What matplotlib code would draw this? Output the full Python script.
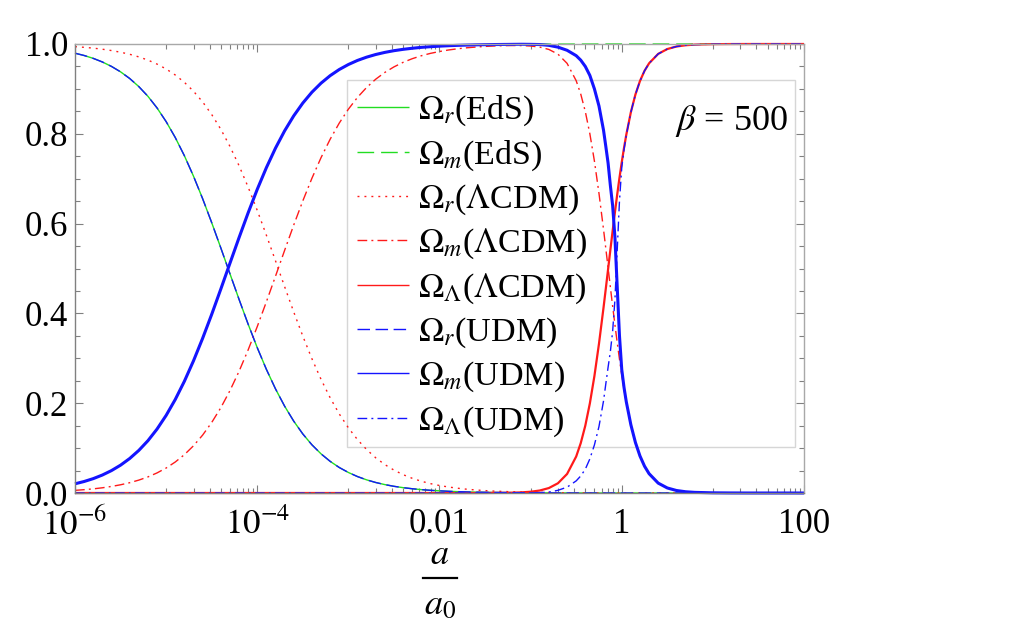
import matplotlib
matplotlib.use('Agg')
import matplotlib.pyplot as plt
import numpy as np
from matplotlib.ticker import FixedLocator, FixedFormatter, NullFormatter
from matplotlib.patches import Rectangle
from matplotlib.lines import Line2D

# ---------------- data ----------------
log10_a = [-6.0, -5.9, -5.8, -5.7, -5.6, -5.5, -5.4, -5.3, -5.2, -5.1,
           -5.0, -4.9, -4.8, -4.7, -4.6, -4.5, -4.4, -4.3, -4.2, -4.1,
           -4.0, -3.9, -3.8, -3.7, -3.6, -3.5, -3.4, -3.3, -3.2, -3.1,
           -3.0, -2.9, -2.8, -2.7, -2.6, -2.5, -2.4, -2.3, -2.2, -2.1,
           -2.0, -1.9, -1.8, -1.7, -1.6, -1.5, -1.4, -1.3, -1.2, -1.1,
           -1.0, -0.9, -0.8, -0.7, -0.6, -0.5, -0.45, -0.4, -0.35, -0.3, -0.25, -0.2,
           -0.175, -0.15, -0.125, -0.1, -0.075, -0.05, -0.025, 0.0,
           0.025, 0.05, 0.1, 0.15, 0.2, 0.25, 0.3, 0.4, 0.5, 0.6, 0.7, 0.8,
           1.0, 1.2, 1.4, 1.6, 1.8, 2.0]

omega_r_eds = [0.9795, 0.9744, 0.9680, 0.9600, 0.9501, 0.9380, 0.9232, 0.9052, 0.8836, 0.8577,
               0.8272, 0.7918, 0.7513, 0.7058, 0.6558, 0.6022, 0.5459, 0.4885, 0.4314, 0.3760,
               0.3237, 0.2755, 0.2320, 0.1935, 0.1601, 0.1315, 0.1073, 0.0872, 0.0705, 0.0568,
               0.0457, 0.0366, 0.0293, 0.0234, 0.0187, 0.0149, 0.0119, 0.0095, 0.0075, 0.0060,
               0.0048, 0.0038, 0.0030, 0.0024, 0.0019, 0.0015, 0.0012, 0.0010, 0.0008, 0.0006,
               0.0005, 0.0004, 0.0003, 0.0002, 0.0002, 0.0001, 0.0001, 0.0001, 0.0001, 0.0001,
               0.0, 0.0, 0.0, 0.0, 0.0, 0.0, 0.0, 0.0, 0.0, 0.0,
               0.0, 0.0, 0.0, 0.0, 0.0, 0.0, 0.0, 0.0, 0.0, 0.0, 0.0, 0.0,
               0.0, 0.0, 0.0, 0.0, 0.0, 0.0]

omega_m_eds = [0.0205, 0.0256, 0.0320, 0.0400, 0.0499, 0.0620, 0.0768, 0.0948, 0.1164, 0.1423,
               0.1728, 0.2082, 0.2487, 0.2942, 0.3442, 0.3978, 0.4541, 0.5115, 0.5686, 0.6240,
               0.6763, 0.7245, 0.7680, 0.8065, 0.8399, 0.8685, 0.8927, 0.9128, 0.9295, 0.9432,
               0.9543, 0.9634, 0.9707, 0.9766, 0.9813, 0.9851, 0.9881, 0.9905, 0.9925, 0.9940,
               0.9952, 0.9962, 0.9970, 0.9976, 0.9981, 0.9985, 0.9988, 0.9990, 0.9992, 0.9994,
               0.9995, 0.9996, 0.9997, 0.9998, 0.9998, 0.9999, 0.9999, 0.9999, 0.9999, 0.9999,
               1.0, 1.0, 1.0, 1.0, 1.0, 1.0, 1.0, 1.0, 1.0, 1.0,
               1.0, 1.0, 1.0, 1.0, 1.0, 1.0, 1.0, 1.0, 1.0, 1.0, 1.0, 1.0,
               1.0, 1.0, 1.0, 1.0, 1.0, 1.0]

omega_r_lcdm = [0.9941, 0.9926, 0.9908, 0.9884, 0.9854, 0.9817, 0.9771, 0.9713, 0.9642, 0.9553,
                0.9444, 0.9310, 0.9147, 0.8949, 0.8712, 0.8430, 0.8101, 0.7721, 0.7291, 0.6813,
                0.6294, 0.5743, 0.5173, 0.4598, 0.4034, 0.3494, 0.2990, 0.2531, 0.2121, 0.1761,
                0.1452, 0.1189, 0.0968, 0.0784, 0.0633, 0.0510, 0.0409, 0.0328, 0.0262, 0.0209,
                0.0167, 0.0133, 0.0106, 0.0084, 0.0067, 0.0053, 0.0042, 0.0034, 0.0027, 0.0021,
                0.0017, 0.0013, 0.0011, 0.0008, 0.0006, 0.0005, 0.0004, 0.0004, 0.0003, 0.0003,
                0.0002, 0.0002, 0.0001, 0.0001, 0.0001, 0.0001, 0.0, 0.0, 0.0, 0.0,
                0.0, 0.0, 0.0, 0.0, 0.0, 0.0, 0.0, 0.0, 0.0, 0.0, 0.0, 0.0,
                0.0, 0.0, 0.0, 0.0, 0.0, 0.0]

omega_m_lcdm = [0.0059, 0.0074, 0.0092, 0.0116, 0.0146, 0.0183, 0.0229, 0.0287, 0.0358, 0.0447,
                0.0556, 0.0690, 0.0853, 0.1051, 0.1288, 0.1570, 0.1899, 0.2279, 0.2709, 0.3187,
                0.3706, 0.4257, 0.4827, 0.5402, 0.5966, 0.6506, 0.7010, 0.7469, 0.7879, 0.8239,
                0.8548, 0.8811, 0.9032, 0.9216, 0.9367, 0.9490, 0.9591, 0.9672, 0.9738, 0.9791,
                0.9833, 0.9867, 0.9894, 0.9916, 0.9932, 0.9946, 0.9956, 0.9963, 0.9966, 0.9965,
                0.9955, 0.9931, 0.9879, 0.9774, 0.9569, 0.9182, 0.8885, 0.8496, 0.8001, 0.7393,
                0.6675, 0.5871, 0.5447, 0.5017, 0.4586, 0.4161, 0.3749, 0.3354, 0.2980, 0.2632,
                0.2311, 0.2019, 0.1519, 0.1125, 0.0824, 0.0597, 0.0430, 0.0220, 0.0112, 0.0056,
                0.0028, 0.0014, 0.0004, 0.0001, 0.0, 0.0, 0.0, 0.0]

omega_l_lcdm = [0.0, 0.0, 0.0, 0.0, 0.0, 0.0, 0.0, 0.0, 0.0, 0.0,
                0.0, 0.0, 0.0, 0.0, 0.0, 0.0, 0.0, 0.0, 0.0, 0.0,
                0.0, 0.0, 0.0, 0.0, 0.0, 0.0, 0.0, 0.0, 0.0, 0.0,
                0.0, 0.0, 0.0, 0.0, 0.0, 0.0, 0.0, 0.0, 0.0, 0.0,
                0.0, 0.0, 0.0, 0.0, 0.0, 0.0001, 0.0002, 0.0004, 0.0007, 0.0014,
                0.0028, 0.0055, 0.0110, 0.0217, 0.0424, 0.0813, 0.1111, 0.1500, 0.1996, 0.2605,
                0.3323, 0.4128, 0.4552, 0.4982, 0.5413, 0.5838, 0.6250, 0.6646, 0.7019, 0.7367,
                0.7688, 0.7981, 0.8481, 0.8875, 0.9176, 0.9403, 0.9570, 0.9780, 0.9888, 0.9944,
                0.9972, 0.9986, 0.9996, 0.9999, 1.0, 1.0, 1.0, 1.0]

omega_r_udm = [0.9795, 0.9744, 0.9680, 0.9600, 0.9501, 0.9380, 0.9232, 0.9052, 0.8836, 0.8577,
               0.8272, 0.7918, 0.7513, 0.7058, 0.6558, 0.6022, 0.5459, 0.4885, 0.4314, 0.3760,
               0.3237, 0.2755, 0.2320, 0.1935, 0.1601, 0.1315, 0.1073, 0.0872, 0.0705, 0.0568,
               0.0457, 0.0366, 0.0293, 0.0234, 0.0187, 0.0149, 0.0119, 0.0095, 0.0075, 0.0060,
               0.0048, 0.0038, 0.0030, 0.0024, 0.0019, 0.0015, 0.0012, 0.0010, 0.0008, 0.0006,
               0.0005, 0.0004, 0.0003, 0.0002, 0.0002, 0.0001, 0.0001, 0.0001, 0.0001, 0.0001,
               0.0, 0.0, 0.0, 0.0, 0.0, 0.0, 0.0, 0.0, 0.0, 0.0,
               0.0, 0.0, 0.0, 0.0, 0.0, 0.0, 0.0, 0.0, 0.0, 0.0, 0.0, 0.0,
               0.0, 0.0, 0.0, 0.0, 0.0, 0.0]

omega_m_udm = [0.0205, 0.0256, 0.0320, 0.0400, 0.0499, 0.0620, 0.0768, 0.0948, 0.1164, 0.1423,
               0.1728, 0.2082, 0.2487, 0.2942, 0.3442, 0.3978, 0.4541, 0.5115, 0.5686, 0.6240,
               0.6763, 0.7245, 0.7680, 0.8065, 0.8399, 0.8685, 0.8927, 0.9128, 0.9295, 0.9432,
               0.9543, 0.9634, 0.9707, 0.9766, 0.9813, 0.9851, 0.9881, 0.9905, 0.9925, 0.9940,
               0.9952, 0.9962, 0.9970, 0.9976, 0.9981, 0.9985, 0.9988, 0.9990, 0.9992, 0.9994,
               0.9992, 0.9988, 0.997, 0.993, 0.986, 0.974, 0.964, 0.950, 0.930, 0.900,
               0.862, 0.808, 0.772, 0.735, 0.685, 0.640, 0.570, 0.460, 0.350, 0.275,
               0.235, 0.203, 0.152, 0.1125, 0.0824, 0.0597, 0.0430, 0.0220, 0.0112, 0.0056,
               0.0028, 0.0014, 0.0004, 0.0001, 0.0, 0.0, 0.0, 0.0]

omega_l_udm = [0.0, 0.0, 0.0, 0.0, 0.0, 0.0, 0.0, 0.0, 0.0, 0.0,
               0.0, 0.0, 0.0, 0.0, 0.0, 0.0, 0.0, 0.0, 0.0, 0.0,
               0.0, 0.0, 0.0, 0.0, 0.0, 0.0, 0.0, 0.0, 0.0, 0.0,
               0.0, 0.0, 0.0, 0.0, 0.0, 0.0, 0.0, 0.0, 0.0, 0.0,
               0.0, 0.0, 0.0, 0.0, 0.0, 0.0, 0.0, 0.0, 0.0, 0.0,
               0.0003, 0.0008, 0.002, 0.006, 0.013, 0.027, 0.038, 0.053, 0.076, 0.107,
               0.148, 0.205, 0.243, 0.280, 0.315, 0.360, 0.430, 0.540, 0.650, 0.725,
               0.765, 0.797, 0.848, 0.8875, 0.9176, 0.9403, 0.9570, 0.9780, 0.9888, 0.9944,
               0.9972, 0.9986, 0.9996, 0.9999, 1.0, 1.0, 1.0, 1.0]

legend_labels = [r'$\Omega_r$(EdS)', r'$\Omega_m$(EdS)',
                 r'$\Omega_r$($\Lambda$CDM)', r'$\Omega_m$($\Lambda$CDM)',
                 r'$\Omega_\Lambda$($\Lambda$CDM)',
                 r'$\Omega_r$(UDM)', r'$\Omega_m$(UDM)', r'$\Omega_\Lambda$(UDM)']

xtick_values = [1e-6, 1e-4, 1e-2, 1.0, 100.0]
xtick_labels = [r'$10^{-6}$', r'$10^{-4}$', '0.01', '1', '100']
ytick_values = [0.0, 0.2, 0.4, 0.6, 0.8, 1.0]
ytick_labels = ['0.0', '0.2', '0.4', '0.6', '0.8', '1.0']

# ---------------- style ----------------
plt.rcParams['font.family'] = ['Liberation Serif', 'DejaVu Serif']
plt.rcParams['mathtext.fontset'] = 'stix'
plt.rcParams['lines.scale_dashes'] = False

GREEN = '#22dd22'
RED = '#ff1a1a'
BLUE = '#1414ff'

fig = plt.figure(figsize=(10.30, 6.41), dpi=100)
ax = fig.add_axes([75/1030, 148/641, 729/1030, 449/641])

a = np.power(10.0, np.array(log10_a))

styles = [
    (omega_r_eds, GREEN, 1.0, None),
    (omega_m_eds, GREEN, 1.0, (12, 5)),
    (omega_r_lcdm, RED, 1.0, (1.4, 3.6)),
    (omega_m_lcdm, RED, 1.0, (7, 3, 1.4, 3)),
    (omega_l_lcdm, RED, 1.6, None),
    (omega_r_udm, BLUE, 1.0, (9, 4)),
    (omega_m_udm, BLUE, 2.2, None),
    (omega_l_udm, BLUE, 1.0, (7, 3, 1.4, 3)),
]
lines = []
for (y, c, lw, d), lab in zip(styles, legend_labels):
    kw = dict(color=c, lw=lw, label=lab, clip_on=False, solid_capstyle='butt')
    if d is not None:
        kw['dashes'] = d
    ln, = ax.plot(a, y, **kw)
    lines.append(ln)

ax.set_xscale('log')
ax.set_xlim(1e-6, 100)
ax.set_ylim(0, 1)

# ticks
ax.xaxis.set_major_locator(FixedLocator(xtick_values))
ax.xaxis.set_major_formatter(FixedFormatter(xtick_labels))
minor = [k * 10.0 ** e for e in (-5, -3, -1, 1) for k in range(1, 10)]
ax.xaxis.set_minor_locator(FixedLocator(minor))
ax.xaxis.set_minor_formatter(NullFormatter())
ax.yaxis.set_major_locator(FixedLocator(ytick_values))
ax.yaxis.set_major_formatter(FixedFormatter(ytick_labels))
ax.yaxis.set_minor_locator(FixedLocator([i * 0.05 for i in range(21)]))

TICKC = '#808080'
ax.tick_params(which='both', direction='in', top=True, right=True, colors=TICKC,
               labelcolor='black', labelsize=25, width=0.8)
ax.tick_params(which='major', length=6)
ax.tick_params(which='minor', length=3.5)
ax.tick_params(axis='x', which='major', pad=11)
ax.tick_params(axis='y', which='major', pad=5)

for s in ('left', 'bottom'):
    ax.spines[s].set_color('#808080')
for s in ('top', 'right'):
    ax.spines[s].set_color('#a8a8a8')
for s in ax.spines.values():
    s.set_linewidth(1.0)

# legend box frame
ax.add_patch(Rectangle((0.373, 0.102), 0.615, 0.818, transform=ax.transAxes,
                       fill=False, edgecolor='#d6d6d6', lw=1.0, clip_on=False))

leg = ax.legend(handles=lines, loc='upper left', bbox_to_anchor=(0.3868, 0.889),
                frameon=False, fontsize=24.5, handlelength=1.53, handletextpad=0.26,
                labelspacing=0.29, borderpad=0.0, borderaxespad=0.0)
for h in leg.get_lines():
    h.set_linewidth(1.0)

ax.text(0.978, 0.8085, r'$\beta$ = 500', transform=ax.transAxes, ha='right',
        va='baseline', fontsize=26)

# x-axis label a / a0
fig.text(440/1030, 1 - 555/641, r'$a$', ha='center', va='center', fontsize=26)
fig.add_artist(Line2D([423/1030, 457/1030], [1 - 578/641, 1 - 578/641],
                      color='black', lw=1.6, transform=fig.transFigure))
fig.text(440/1030, 1 - 606/641, r'$a_0$', ha='center', va='center', fontsize=26)

fig.savefig('out.png', dpi=100)
